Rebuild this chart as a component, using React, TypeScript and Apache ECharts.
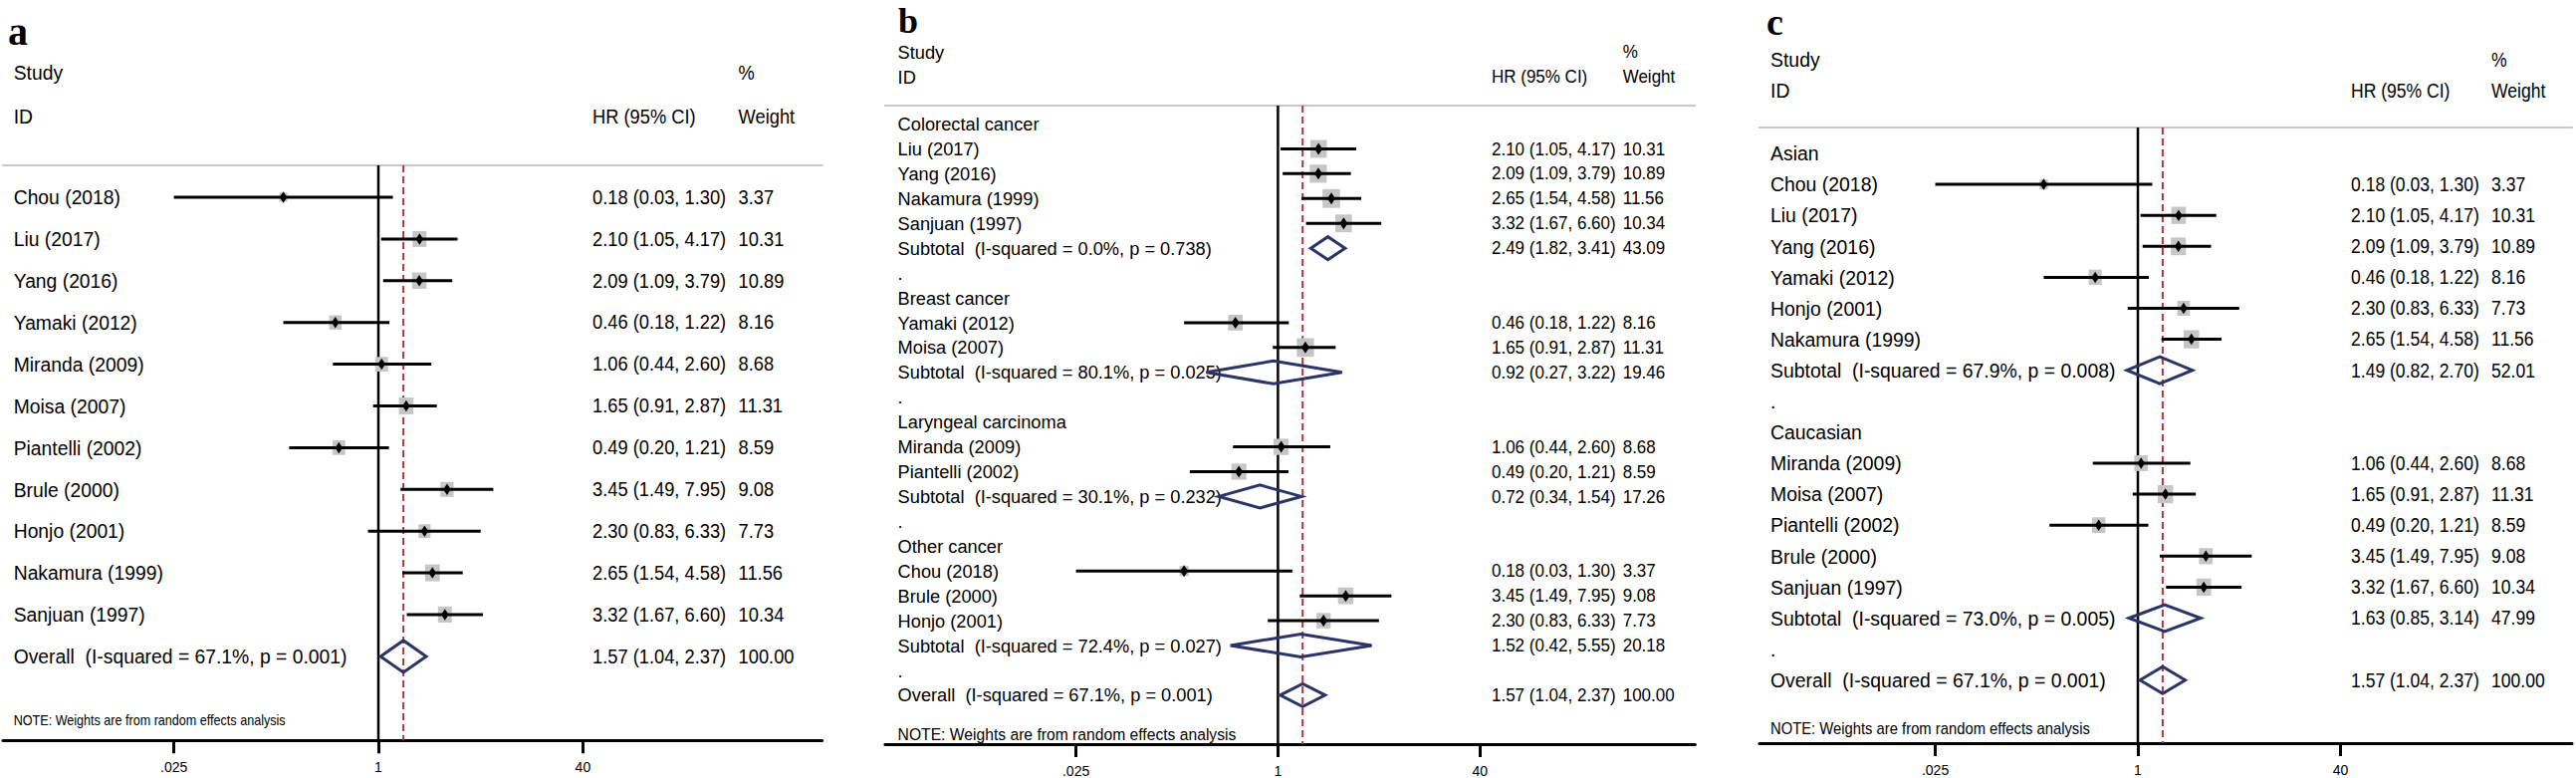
import React, { useEffect, useRef } from "react";
import * as echarts from "echarts";

// ---------------- Data ----------------
const studyNames = [
  "Chou (2018)", "Liu (2017)", "Yang (2016)", "Yamaki (2012)", "Miranda (2009)", "Moisa (2007)",
  "Piantelli (2002)", "Brule (2000)", "Honjo (2001)", "Nakamura (1999)", "Sanjuan (1997)",
];
const studyHR = [0.18, 2.10, 2.09, 0.46, 1.06, 1.65, 0.49, 3.45, 2.30, 2.65, 3.32];
const studyLow = [0.025, 1.05, 1.09, 0.18, 0.44, 0.91, 0.20, 1.49, 0.83, 1.54, 1.67];
const studyHigh = [1.30, 4.17, 3.79, 1.22, 2.60, 2.87, 1.21, 7.95, 6.33, 4.58, 6.60];
const studyWeight = [3.37, 10.31, 10.89, 8.16, 8.68, 11.31, 8.59, 9.08, 7.73, 11.56, 10.34];

const overallI2 = 67.1;
const overallP = 0.001;
const overallHR = 1.57;
const overallLow = 1.04;
const overallHigh = 2.37;
const overallWeight = 100.0;

const cancerGroups = ["Colorectal cancer", "Breast cancer", "Laryngeal carcinoma", "Other cancer"];
const cancerMembers = [[1, 2, 9, 10], [3, 5], [4, 6], [0, 7, 8]];
const cancerI2 = [0.0, 80.1, 30.1, 72.4];
const cancerP = [0.738, 0.025, 0.232, 0.027];
const cancerHR = [2.49, 0.92, 0.72, 1.52];
const cancerLow = [1.82, 0.27, 0.34, 0.42];
const cancerHigh = [3.41, 3.22, 1.54, 5.55];
const cancerWeight = [43.09, 19.46, 17.26, 20.18];

const ethnicGroups = ["Asian", "Caucasian"];
const ethnicMembers = [[0, 1, 2, 3, 8, 9], [4, 5, 6, 7, 10]];
const ethnicI2 = [67.9, 73.0];
const ethnicP = [0.008, 0.005];
const ethnicHR = [1.49, 1.63];
const ethnicLow = [0.82, 0.85];
const ethnicHigh = [2.70, 3.14];
const ethnicWeight = [52.01, 47.99];

const tickValues = [0.025, 1, 40];
const panelLetters = ["a", "b", "c"];
const headerStudy = "Study";
const headerID = "ID";
const headerHR = "HR (95% CI)";
const headerPct = "%";
const headerWeight = "Weight";
const noteText = "NOTE: Weights are from random effects analysis";

// ---------------- Rows ----------------
type Row = {
  kind: "study" | "summary" | "header" | "blank";
  label: string;
  hr?: number;
  lo?: number;
  hi?: number;
  w?: number;
};

const studyRow = (i: number): Row => ({
  kind: "study", label: studyNames[i], hr: studyHR[i], lo: studyLow[i], hi: studyHigh[i], w: studyWeight[i],
});
const overallRow = (): Row => ({
  kind: "summary",
  label: `Overall  (I-squared = ${overallI2.toFixed(1)}%, p = ${overallP.toFixed(3)})`,
  hr: overallHR, lo: overallLow, hi: overallHigh, w: overallWeight,
});

function groupedRows(
  groups: string[], members: number[][], i2: number[], p: number[],
  hr: number[], lo: number[], hi: number[], w: number[]
): Row[] {
  const rows: Row[] = [];
  groups.forEach((g, gi) => {
    rows.push({ kind: "header", label: g });
    members[gi].forEach((m) => rows.push(studyRow(m)));
    rows.push({
      kind: "summary",
      label: `Subtotal  (I-squared = ${i2[gi].toFixed(1)}%, p = ${p[gi].toFixed(3)})`,
      hr: hr[gi], lo: lo[gi], hi: hi[gi], w: w[gi],
    });
    rows.push({ kind: "blank", label: "." });
  });
  rows.push(overallRow());
  return rows;
}

const rowsA: Row[] = [...studyNames.map((_, i) => studyRow(i)), overallRow()];
const rowsB = groupedRows(cancerGroups, cancerMembers, cancerI2, cancerP, cancerHR, cancerLow, cancerHigh, cancerWeight);
const rowsC = groupedRows(ethnicGroups, ethnicMembers, ethnicI2, ethnicP, ethnicHR, ethnicLow, ethnicHigh, ethnicWeight);
const panelRows = [rowsA, rowsB, rowsC];

// ---------------- Layout / style ----------------
const W = 2587;
const H = 781;
const FONT = '"Liberation Sans", Arial, Helvetica, sans-serif';
const SERIF = '"Liberation Serif", "Times New Roman", serif';
const NAVY = "#2b3467";
const RED = "#b0343c";
const BOX = "#c6c6c6";
const GRAY_LINE = "#c8c8c8";

const layouts = [
  {
    left: 3, right: 825.6, top: 166, axisY: 743.3, y0: 198, step: 41.9, oneX: 380, ppd: 128.2,
    nameX: 13.7, hrX: 595, wX: 741.6,
    fs: 21, sx: 0.92, sfs: 20, ssx: 0.915, noteFs: 14, noteSx: 0.9,
    studyY: 73, idY: 117, noteY: 723, letterX: 8, letterY: 11, letterFs: 40,
    boxW: 13.8, boxH: 15.8, mkW: 7.5, mkH: 11.5, dH: 32,
  },
  {
    left: 888.9, right: 1702.4, top: 106, axisY: 747.3, y0: 124.5, step: 24.94, oneX: 1283.4, ppd: 126.6,
    nameX: 901.6, hrX: 1498, wX: 1629.7,
    fs: 18.8, sx: 0.97, sfs: 17.8, ssx: 0.955, noteFs: 16.5, noteSx: 0.95,
    studyY: 52, idY: 77, noteY: 736.7, letterX: 902, letterY: 3, letterFs: 36,
    boxW: 16.3, boxH: 17.5, mkW: 8, mkH: 12, dH: 23,
  },
  {
    left: 1767, right: 2583, top: 128, axisY: 746, y0: 154, step: 31.1, oneX: 2147, ppd: 127,
    nameX: 1778, hrX: 2361, wX: 2502,
    fs: 21, sx: 0.925, sfs: 19.5, ssx: 0.9, noteFs: 16, noteSx: 0.925,
    studyY: 60, idY: 91, noteY: 731, letterX: 1774, letterY: 3, letterFs: 38,
    boxW: 14.5, boxH: 17, mkW: 7.5, mkH: 11.5, dH: 27,
  },
];

const hrText = (r: Row) => `${r.hr!.toFixed(2)} (${r.lo!.toFixed(2)}, ${r.hi!.toFixed(2)})`;

const textEl = (text: string, x: number, y: number, fs: number, sx: number) => ({
  type: "text",
  x,
  y,
  scaleX: sx,
  silent: true,
  style: {
    text, x: 0, y: 0, fill: "#000", fontSize: fs, fontFamily: FONT,
    verticalAlign: "middle", align: "left",
  },
});

function makeRender(rows: Row[], L: any) {
  return (params: any, api: any) => {
    const row = rows[params.dataIndex];
    const r = api.value(1);
    const y = api.coord([1, r])[1];
    const kids: any[] = [textEl(row.label, L.nameX, y, L.fs, L.sx)];
    if (row.kind === "study" || row.kind === "summary") {
      const xl = api.coord([row.lo, r])[0];
      const xh = api.coord([row.hi, r])[0];
      const xp = api.coord([row.hr, r])[0];
      if (row.kind === "study") {
        const f = Math.sqrt(row.w! / 10);
        const bw = L.boxW * f;
        const bh = L.boxH * f;
        kids.push({ type: "rect", shape: { x: xp - bw / 2, y: y - bh / 2, width: bw, height: bh }, style: { fill: BOX } });
        kids.push({ type: "line", shape: { x1: xl, y1: y, x2: xh, y2: y }, style: { stroke: "#000", lineWidth: 3 } });
        kids.push({
          type: "polygon",
          shape: { points: [[xp, y - L.mkH / 2], [xp + L.mkW / 2, y], [xp, y + L.mkH / 2], [xp - L.mkW / 2, y]] },
          style: { fill: "#000" },
        });
      } else {
        const h = L.dH / 2;
        kids.push({
          type: "polygon",
          shape: { points: [[xl, y], [xp, y - h], [xh, y], [xp, y + h]] },
          style: { fill: "none", stroke: NAVY, lineWidth: 3, lineJoin: "miter" },
        });
      }
      kids.push(textEl(hrText(row), L.hrX, y, L.sfs, L.ssx));
      kids.push(textEl(row.w!.toFixed(2), L.wX, y, L.sfs, L.ssx));
    }
    return { type: "group", children: kids };
  };
}

function buildOption() {
  const grids: any[] = [];
  const xAxes: any[] = [];
  const yAxes: any[] = [];
  const series: any[] = [];
  const graphic: any[] = [];

  layouts.forEach((L, i) => {
    const rows = panelRows[i];
    const xmin = Math.pow(10, (L.left - L.oneX) / L.ppd);
    const xmax = Math.pow(10, (L.right - L.oneX) / L.ppd);
    const rowMin = (L.top - L.y0) / L.step;
    const rowMax = (L.axisY - L.y0) / L.step;
    grids.push({ left: L.left, top: L.top, width: L.right - L.left, height: L.axisY - L.top, containLabel: false });
    xAxes.push({
      type: "log", logBase: 10, gridIndex: i, position: "bottom", min: xmin, max: xmax,
      axisLine: { show: true, onZero: false, lineStyle: { color: "#000", width: 3 } },
      axisTick: { show: true, inside: false, length: 13, lineStyle: { color: "#000", width: 3 }, customValues: tickValues },
      axisLabel: {
        show: true, customValues: tickValues, margin: 20, color: "#000", fontSize: 14, fontFamily: FONT,
        formatter: (v: number) => (v < 1 ? String(v).replace(/^0/, "") : String(v)),
      },
      splitLine: { show: false }, minorTick: { show: false }, minorSplitLine: { show: false },
    });
    xAxes.push({
      type: "log", logBase: 10, gridIndex: i, position: "top", min: xmin, max: xmax,
      axisLine: { show: true, onZero: false, lineStyle: { color: GRAY_LINE, width: 2 } },
      axisTick: { show: false }, axisLabel: { show: false }, splitLine: { show: false },
    });
    yAxes.push({ type: "value", gridIndex: i, inverse: true, min: rowMin, max: rowMax, show: false, splitLine: { show: false } });

    series.push({
      type: "line", xAxisIndex: i * 2, yAxisIndex: i, symbol: "none", silent: true,
      data: [[1, rowMin], [1, rowMax]],
      lineStyle: { color: "#000", width: 2.5 }, z: 2,
    });
    series.push({
      type: "line", xAxisIndex: i * 2, yAxisIndex: i, symbol: "none", silent: true,
      data: [[overallHR, rowMin], [overallHR, rowMax]],
      lineStyle: { color: RED, width: 2, type: [7, 4] }, z: 2,
    });
    series.push({
      type: "custom", xAxisIndex: i * 2, yAxisIndex: i, clip: false, z: 3,
      data: rows.map((row, ri) => [row.hr ?? 1, ri]),
      encode: { x: 0, y: 1 },
      renderItem: makeRender(rows, L),
    });

    graphic.push({
      type: "text", x: L.letterX, y: L.letterY, silent: true,
      style: {
        text: panelLetters[i], x: 0, y: 0, fill: "#000", fontSize: L.letterFs, fontWeight: "bold",
        fontFamily: SERIF, verticalAlign: "top", align: "left",
      },
    });
    graphic.push(textEl(headerStudy, L.nameX, L.studyY, L.fs, L.sx));
    graphic.push(textEl(headerID, L.nameX, L.idY, L.fs, L.sx));
    graphic.push(textEl(headerHR, L.hrX, L.idY, L.sfs, L.ssx));
    graphic.push(textEl(headerPct, L.wX, L.studyY, L.sfs, L.ssx));
    graphic.push(textEl(headerWeight, L.wX, L.idY, L.sfs, L.ssx));
    graphic.push(textEl(noteText, L.nameX, L.noteY, L.noteFs, L.noteSx));
  });

  return {
    animation: false,
    backgroundColor: "#fff",
    grid: grids,
    xAxis: xAxes,
    yAxis: yAxes,
    series,
    graphic,
  };
}

export default function App() {
  const ref = useRef<HTMLDivElement>(null);
  useEffect(() => {
    const chart = echarts.init(ref.current!, null, { renderer: "svg", width: W, height: H });
    chart.setOption(buildOption() as any);
    return () => chart.dispose();
  }, []);
  return (
    <div
      ref={ref}
      style={{ position: "fixed", left: 0, top: 0, width: W, height: H, background: "#fff" }}
    />
  );
}
